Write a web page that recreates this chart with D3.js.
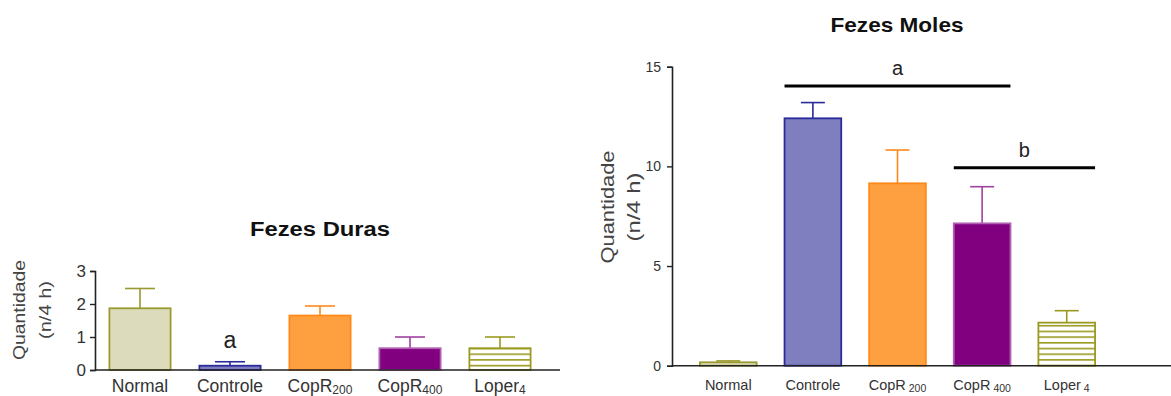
<!DOCTYPE html>
<html>
<head>
<meta charset="utf-8">
<script src="https://cdn.jsdelivr.net/npm/d3@7"></script>
<style>
  body { margin: 0; background: #fff; }
  text { font-family: "Liberation Sans", Arial, sans-serif; }
</style>
</head>
<body>
<div id="wrapper"></div>
<script>
// groups (label + subscript)
const groups = ["Normal", "Controle", "CopR200", "CopR400", "Loper4"];
const groupBase = ["Normal", "Controle", "CopR", "CopR", "Loper"];
const groupSub = ["", "", "200", "400", "4"];

// Fezes Duras (mean, mean + error)
const durasMean = [1.87, 0.13, 1.65, 0.66, 0.66];
const durasErr = [2.47, 0.25, 1.94, 1.0, 1.0];
const durasTicks = [0, 1, 2, 3];

// Fezes Moles
const molesMean = [0.17, 12.41, 9.15, 7.14, 2.16];
const molesErr = [0.24, 13.2, 10.82, 8.98, 2.76];
const molesTicks = [0, 5, 10, 15];

const fills = ["#dcdcbc", "#7f7fbf", "#ffa040", "#800080", "url(#hatch)"];
const strokes = ["#9a9a30", "#2a2a9a", "#ff8a1a", "#b060b0", "#9a9a20"];
const errColors = ["#9a9a30", "#2a2a9a", "#ff8a1a", "#a040a0", "#9a9a20"];

const width = 1171, height = 396;

const svg = d3.select("#wrapper")
    .append("svg")
    .attr("width", width)
    .attr("height", height);

const defs = svg.append("defs");
const pat = defs.append("pattern")
    .attr("id", "hatch")
    .attr("patternUnits", "userSpaceOnUse")
    .attr("width", 8)
    .attr("height", 5.7);
pat.append("rect").attr("width", 8).attr("height", 5.7).attr("fill", "#fff");
pat.append("line")
    .attr("x1", 0).attr("x2", 8)
    .attr("y1", 0.8).attr("y2", 0.8)
    .attr("stroke", "#9a9a20")
    .attr("stroke-width", 1.6);

function drawChart(opt) {
    const x = d3.scaleBand()
        .domain(groups)
        .range(opt.xRange)
        .paddingInner(opt.padInner)
        .paddingOuter(opt.padOuter);
    const y = d3.scaleLinear()
        .domain([0, opt.yMax])
        .range(opt.yRange);

    const g = svg.append("g");

    // error bars
    const err = g.selectAll(".err")
        .data(groups)
        .enter()
        .append("g");
    err.append("line")
        .attr("x1", d => x(d) + x.bandwidth() / 2)
        .attr("x2", d => x(d) + x.bandwidth() / 2)
        .attr("y1", (d, i) => y(opt.mean[i]))
        .attr("y2", (d, i) => y(opt.err[i]))
        .attr("stroke", (d, i) => errColors[i])
        .attr("stroke-width", 1.6);
    err.append("line")
        .attr("x1", d => x(d) + x.bandwidth() / 2 - opt.cap)
        .attr("x2", d => x(d) + x.bandwidth() / 2 + opt.cap)
        .attr("y1", (d, i) => y(opt.err[i]))
        .attr("y2", (d, i) => y(opt.err[i]))
        .attr("stroke", (d, i) => errColors[i])
        .attr("stroke-width", 1.6);

    // bars
    g.selectAll(".bar")
        .data(groups)
        .enter()
        .append("rect")
        .attr("x", d => x(d))
        .attr("width", x.bandwidth())
        .attr("y", (d, i) => y(opt.mean[i]))
        .attr("height", (d, i) => y(0) - y(opt.mean[i]))
        .attr("fill", (d, i) => fills[i])
        .attr("stroke", (d, i) => strokes[i])
        .attr("stroke-width", 1.8);

    // y axis
    const yAxis = g.append("g")
        .attr("transform", `translate(${opt.xRange[0]},0)`)
        .call(d3.axisLeft(y).tickValues(opt.ticks).tickFormat(d3.format("d"))
            .tickSize(5).tickPadding(opt.tickPad));
    yAxis.select(".domain").attr("stroke", "#222").attr("stroke-width", 1.6);
    yAxis.selectAll(".tick line").attr("stroke", "#222").attr("stroke-width", 1.4);
    yAxis.selectAll(".tick text")
        .attr("fill", "#333")
        .style("font-size", opt.tickFont + "px")
        .style("font-family", "'Liberation Sans', Arial, sans-serif");

    // x axis line
    g.append("line")
        .attr("x1", opt.xRange[0])
        .attr("x2", opt.xAxisEnd)
        .attr("y1", y(0))
        .attr("y2", y(0))
        .attr("stroke", "#222")
        .attr("stroke-width", 1.6);

    // category labels
    const lab = g.selectAll(".cat")
        .data(groups)
        .enter()
        .append("text")
        .attr("x", d => x(d) + x.bandwidth() / 2)
        .attr("y", opt.catY)
        .attr("text-anchor", "middle")
        .attr("fill", "#333")
        .style("font-size", opt.catFont + "px");
    lab.append("tspan").text((d, i) => groupBase[i]);
    lab.append("tspan")
        .attr("dy", 1.5)
        .attr("dx", opt.subGap)
        .style("font-size", opt.subFont + "px")
        .text((d, i) => groupSub[i]);

    // y label (two lines, rotated)
    [["Quantidade", opt.yLab1X, opt.yLab1Len], ["(n/4 h)", opt.yLab2X, opt.yLab2Len]].forEach(l => {
        g.append("text")
            .attr("transform", `translate(${l[1]},${opt.yLabY}) rotate(-90)`)
            .attr("text-anchor", "middle")
            .attr("fill", "#444")
            .attr("textLength", l[2])
            .attr("lengthAdjust", "spacingAndGlyphs")
            .style("font-size", opt.yLabFont + "px")
            .text(l[0]);
    });

    // title
    g.append("text")
        .attr("x", opt.titleX)
        .attr("y", opt.titleY)
        .attr("text-anchor", "middle")
        .attr("fill", "#111")
        .attr("textLength", opt.titleLen)
        .attr("lengthAdjust", "spacingAndGlyphs")
        .style("font-size", opt.titleFont + "px")
        .style("font-weight", "bold")
        .text(opt.title);

    return { x, y, g };
}

// Fezes Duras
const duras = drawChart({
    title: "Fezes Duras", titleX: 320, titleY: 236, titleLen: 140, titleFont: 20,
    mean: durasMean, err: durasErr, ticks: durasTicks,
    xRange: [95, 545], padInner: 0.32, padOuter: 0.16, xAxisEnd: 560,
    yMax: 3, yRange: [370, 271], cap: 15,
    tickPad: 4, tickFont: 17,
    catY: 392, catFont: 17.5, subFont: 12, subGap: 0,
    yLab1X: 25, yLab2X: 51, yLabY: 310, yLab1Len: 100, yLab2Len: 58, yLabFont: 17
});
duras.g.append("text")
    .attr("x", duras.x("Controle") + duras.x.bandwidth() / 2)
    .attr("y", 348)
    .attr("text-anchor", "middle")
    .attr("fill", "#222")
    .style("font-size", "23px")
    .text("a");

// Fezes Moles
const moles = drawChart({
    title: "Fezes Moles", titleX: 897, titleY: 32, titleLen: 133, titleFont: 21,
    mean: molesMean, err: molesErr, ticks: molesTicks,
    xRange: [672, 1123], padInner: 0.33, padOuter: 0.33, xAxisEnd: 1171,
    yMax: 15, yRange: [365.7, 66.7], cap: 12,
    tickPad: 6, tickFont: 14,
    catY: 390, catFont: 14.5, subFont: 10.5, subGap: 3,
    yLab1X: 614, yLab2X: 640, yLabY: 207, yLab1Len: 113, yLab2Len: 69, yLabFont: 19
});

// significance brackets
const brackets = [
    { from: "Controle", to: "CopR400", level: 14.03, label: "a" },
    { from: "CopR400", to: "Loper4", level: 9.93, label: "b" }
];
brackets.forEach(b => {
    const x0 = moles.x(b.from);
    const x1 = moles.x(b.to) + moles.x.bandwidth();
    moles.g.append("line")
        .attr("x1", x0).attr("x2", x1)
        .attr("y1", moles.y(b.level)).attr("y2", moles.y(b.level))
        .attr("stroke", "#000")
        .attr("stroke-width", 3);
    moles.g.append("text")
        .attr("x", (x0 + x1) / 2)
        .attr("y", moles.y(b.level) - 11)
        .attr("text-anchor", "middle")
        .attr("fill", "#222")
        .style("font-size", "20px")
        .text(b.label);
});
</script>
</body>
</html>
